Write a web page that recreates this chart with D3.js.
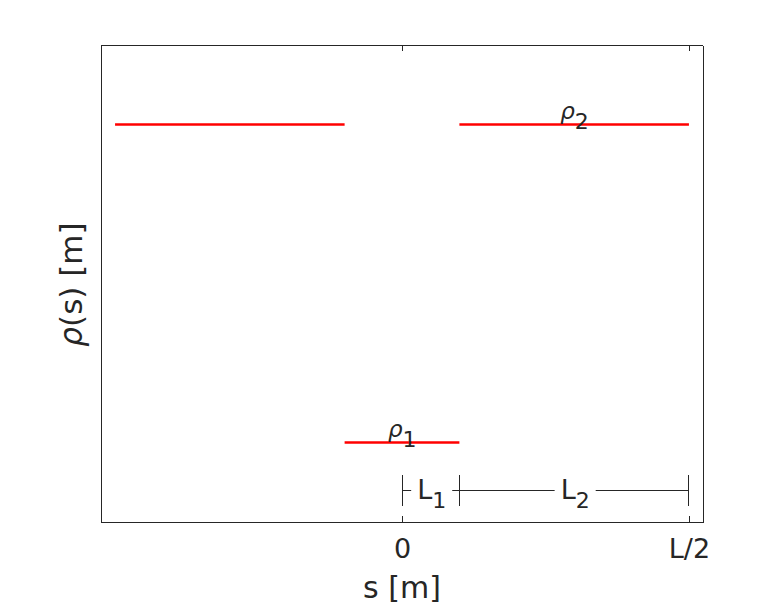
<!DOCTYPE html>
<html><head><meta charset="utf-8">
<script src="https://cdn.jsdelivr.net/npm/d3@7"></script>
<style>body{margin:0;background:#fff}svg{display:block}text{font-family:"DejaVu Sans",sans-serif;fill:#262626}</style>
</head><body><div id="chart"></div>
<script>
// x in units of L/2, y arbitrary
const xTickValues = [0, 1];
const xTickLabels = ["0", "L/2"];
const segStart = [-1, -0.2, 0.2];
const segEnd = [-0.2, 0.2, 1];
const segRho = [5, 1, 5];
const rhoLabels = [{base: "ρ", sub: "1", x: 0, y: 1}, {base: "ρ", sub: "2", x: 0.6, y: 5}];
const dimBounds = [0, 0.2, 1];
const dimLabels = [{base: "L", sub: "1"}, {base: "L", sub: "2"}];
const dimY = 0.4;
const xDomain = [-1.049, 1.049];
const yDomain = [0, 6];

const W = 778, H = 606;
const m = {l: 101, r: 75, t: 45, b: 84};
const svg = d3.select("#chart").append("svg").attr("width", W).attr("height", H);
const x = d3.scaleLinear().domain(xDomain).range([m.l, W - m.r]);
const y = d3.scaleLinear().domain(yDomain).range([H - m.b, m.t]);

// axes
const col = "#262626";
const xb = svg.append("g").attr("transform", `translate(0,${H - m.b})`)
  .call(d3.axisBottom(x).tickValues(xTickValues).tickFormat((d, i) => xTickLabels[i]).tickSize(-6).tickPadding(17));
const xt = svg.append("g").attr("transform", `translate(0,${m.t})`)
  .call(d3.axisTop(x).tickValues(xTickValues).tickFormat("").tickSize(-6));
const yl = svg.append("g").attr("transform", `translate(${m.l},0)`).call(d3.axisLeft(y).tickValues([]).tickSizeOuter(0));
const yr = svg.append("g").attr("transform", `translate(${W - m.r},0)`).call(d3.axisRight(y).tickValues([]).tickSizeOuter(0));
[xb, xt, yl, yr].forEach(g => {
  g.selectAll("path").attr("stroke", col).attr("stroke-width", 1).attr("shape-rendering", "crispEdges");
  g.selectAll("line").attr("stroke", col).attr("shape-rendering", "crispEdges");
});
xb.select(".domain").attr("d", `M${m.l},0H${W - m.r}`);
xt.select(".domain").attr("d", `M${m.l},0H${W - m.r}`);
xb.selectAll("text").attr("font-size", 27).attr("fill", col).attr("font-family", "DejaVu Sans");

// red segments
svg.append("g").selectAll("line").data(segStart).join("line")
  .attr("x1", (d, i) => x(segStart[i])).attr("x2", (d, i) => x(segEnd[i]))
  .attr("y1", (d, i) => y(segRho[i])).attr("y2", (d, i) => y(segRho[i]))
  .attr("stroke", "#ff0000").attr("stroke-width", 2.5);

// rho labels
rhoLabels.forEach(r => {
  const t = svg.append("text").attr("x", x(r.x) - 14).attr("y", y(r.y) - 6).attr("font-size", 23);
  t.append("tspan").text(r.base).attr("font-style", "italic");
  t.append("tspan").text(r.sub).attr("dy", 10).attr("font-size", 22);
});

// dimension lines
const dy = Math.round(y(dimY)) + 0.5;
const dg = svg.append("g");
dg.append("line").attr("x1", x(dimBounds[0])).attr("x2", x(dimBounds[dimBounds.length - 1]))
  .attr("y1", dy).attr("y2", dy).attr("stroke", col).attr("stroke-width", 1).attr("shape-rendering", "crispEdges");
dg.selectAll("line.bar").data(dimBounds).join("line").attr("class", "bar")
  .attr("x1", d => x(d)).attr("x2", d => x(d)).attr("y1", dy - 15.5).attr("y2", dy + 15.5)
  .attr("stroke", col).attr("stroke-width", 1).attr("shape-rendering", "crispEdges");
dimLabels.forEach((lab, i) => {
  const cx = (x(dimBounds[i]) + x(dimBounds[i + 1])) / 2 + 1;
  const g = dg.append("g");
  const t = g.append("text").attr("x", cx).attr("y", dy + 8).attr("text-anchor", "middle").attr("font-size", 27);
  t.append("tspan").text(lab.base);
  t.append("tspan").text(lab.sub).attr("dy", 9).attr("font-size", 22);
  const bb = t.node().getBBox();
  g.insert("rect", "text").attr("x", bb.x - 6).attr("width", bb.width + 12)
    .attr("y", dy - 3).attr("height", 6).attr("fill", "#fff");
});

// axis labels
svg.append("text").attr("x", x(0)).attr("y", 598).attr("text-anchor", "middle").attr("font-size", 30).text("s [m]");
const ylab = svg.append("text").attr("transform", `translate(82,${(m.t + H - m.b) / 2 + 1}) rotate(-90)`)
  .attr("text-anchor", "middle").attr("font-size", 31);
ylab.append("tspan").text("ρ").attr("font-style", "italic");
ylab.append("tspan").text("(s) [m]");
</script></body></html>
